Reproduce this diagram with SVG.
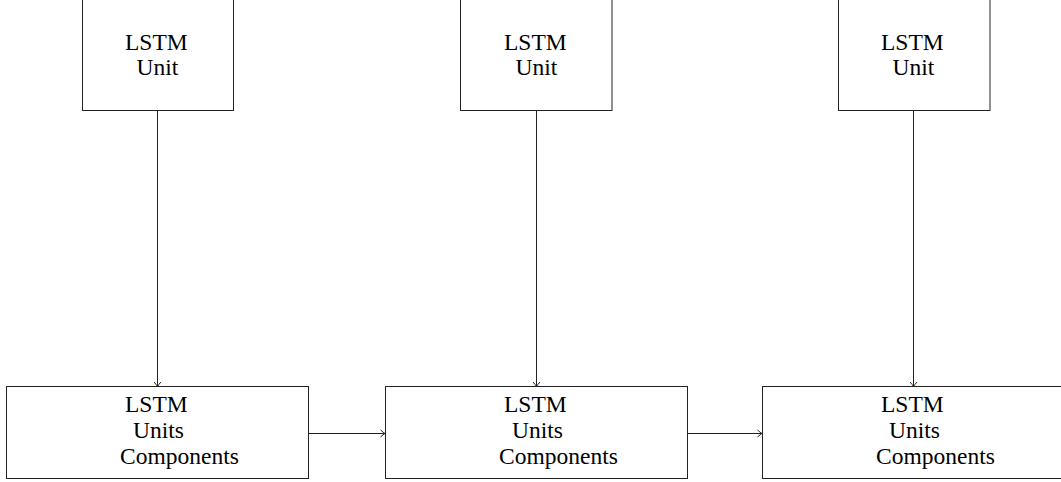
<svg xmlns="http://www.w3.org/2000/svg" width="1061" height="482" viewBox="0 0 1061 482">
<style>
.box{fill:#fff;stroke:#222;stroke-width:1}
.lbl{font-family:'Liberation Serif','Times New Roman',serif;font-size:23.5px;fill:#000}
.edge{fill:none;stroke:#222;stroke-width:1}
</style>
<defs>
<marker id="arr" markerUnits="userSpaceOnUse" markerWidth="10" markerHeight="10" viewBox="-6 -5 7 10" refX="0" refY="0" orient="auto">
<path d="M-4.5,-3.5 Q-1.5,-0.8 0,0 Q-1.5,0.8 -4.5,3.5" fill="none" stroke="#222" stroke-width="1"/>
</marker>
</defs>
<g id="connectors">
<line class="edge" x1="157.5" y1="111" x2="157.5" y2="386.5" marker-end="url(#arr)"/>
<line class="edge" x1="536.5" y1="111" x2="536.5" y2="386.5" marker-end="url(#arr)"/>
<line class="edge" x1="913.5" y1="111" x2="913.5" y2="386.5" marker-end="url(#arr)"/>
<line class="edge" x1="308.5" y1="433.5" x2="385" y2="433.5" marker-end="url(#arr)"/>
<line class="edge" x1="687.5" y1="433.5" x2="762" y2="433.5" marker-end="url(#arr)"/>
</g>
<g id="top1">
<rect class="box" x="82.5" y="-2" width="151" height="112.5"/>
<text class="lbl" x="125" y="50">LSTM</text>
<text class="lbl" x="136.5" y="75">Unit</text>
</g>
<g id="top2">
<rect class="box" x="460.5" y="-2" width="151.5" height="112.5"/>
<text class="lbl" x="504" y="50">LSTM</text>
<text class="lbl" x="515.5" y="75">Unit</text>
</g>
<g id="top3">
<rect class="box" x="838.5" y="-2" width="151.5" height="112.5"/>
<text class="lbl" x="881" y="50">LSTM</text>
<text class="lbl" x="892.5" y="75">Unit</text>
</g>
<g id="bottom1">
<rect class="box" x="6.5" y="386.5" width="302" height="92"/>
<text class="lbl" x="125" y="412">LSTM</text>
<text class="lbl" x="133" y="438">Units</text>
<text class="lbl" x="120" y="464">Components</text>
</g>
<g id="bottom2">
<rect class="box" x="385.5" y="386.5" width="302" height="92"/>
<text class="lbl" x="504" y="412">LSTM</text>
<text class="lbl" x="512" y="438">Units</text>
<text class="lbl" x="499" y="464">Components</text>
</g>
<g id="bottom3">
<rect class="box" x="762.5" y="386.5" width="302" height="92"/>
<text class="lbl" x="881" y="412">LSTM</text>
<text class="lbl" x="889" y="438">Units</text>
<text class="lbl" x="876" y="464">Components</text>
</g>
</svg>
